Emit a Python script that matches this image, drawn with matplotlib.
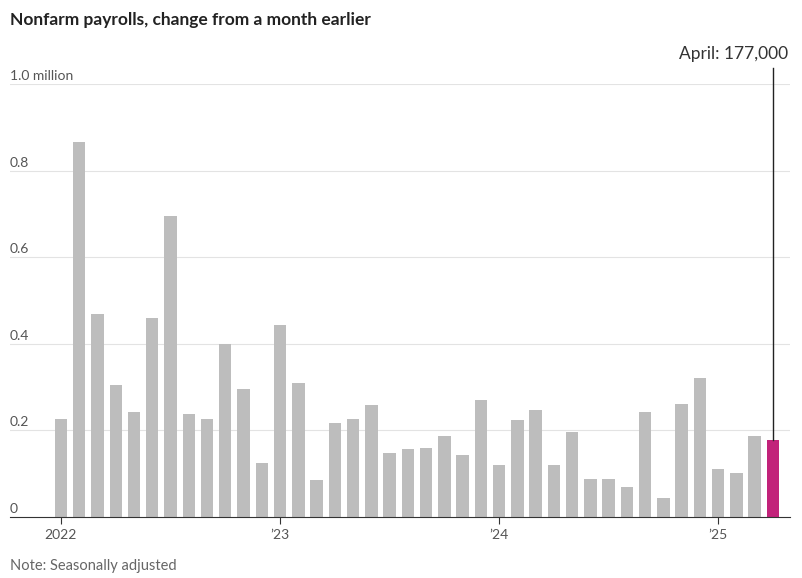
import matplotlib.pyplot as plt
import numpy as np

# monthly change, millions, Jan 2022 - Apr 2025
values = [0.226, 0.866, 0.469, 0.305, 0.242, 0.46, 0.695, 0.238, 0.226, 0.40, 0.296, 0.125,
          0.443, 0.309, 0.085, 0.217, 0.226, 0.259, 0.148, 0.157, 0.159, 0.187, 0.143, 0.27,
          0.12, 0.224, 0.247, 0.12, 0.196, 0.088, 0.088, 0.069, 0.242, 0.044, 0.261, 0.321,
          0.111, 0.102, 0.187, 0.177]
year_labels = ['2022', '\u201923', '\u201924', '\u201925']
y_ticks = [0, 0.2, 0.4, 0.6, 0.8, 1.0]
y_labels = ['0', '0.2', '0.4', '0.6', '0.8', '1.0 million']

plt.rcParams['font.family'] = ['Lato', 'DejaVu Sans']
fig = plt.figure(figsize=(8.03, 5.78), dpi=100)
ax = fig.add_axes([0.0125, 0.1055, 0.971, 0.749])

x = np.arange(len(values))
colors = ['#bdbdbd'] * (len(values) - 1) + ['#c2227a']
ax.bar(x, values, width=0.68, color=colors, zorder=2)

ax.set_xlim(-2.79, 39.92)
ax.set_ylim(0, 1.0)
for t, lab in zip(y_ticks, y_labels):
    if t > 0:
        ax.axhline(t, color='#e3e3e3', lw=0.8, zorder=1)
    ax.text(-2.79, t + 0.005, lab, fontsize=10, color='#555555', va='bottom', ha='left')
ax.set_yticks([])
ax.set_xticks([0, 12, 24, 36])
ax.set_xticklabels(year_labels, fontsize=10, color='#555555')
ax.tick_params(axis='x', length=5, color='#333333')
for s in ['top', 'right', 'left']:
    ax.spines[s].set_visible(False)
ax.spines['bottom'].set_color('#333333')

ax.plot([39, 39], [values[-1], 1.037], color='#222222', lw=1, clip_on=False, zorder=3)
ax.text(39.85, 1.05, 'April: 177,000', fontsize=12.5, color='#333333', ha='right', va='bottom')

fig.text(0.0125, 0.965, 'Nonfarm payrolls, change from a month earlier', fontsize=12.5,
         fontweight='bold', color='#222222', va='center')
fig.text(0.0125, 0.013, 'Note: Seasonally adjusted', fontsize=10.5, color='#666666')

fig.savefig('out.png', dpi=100)
